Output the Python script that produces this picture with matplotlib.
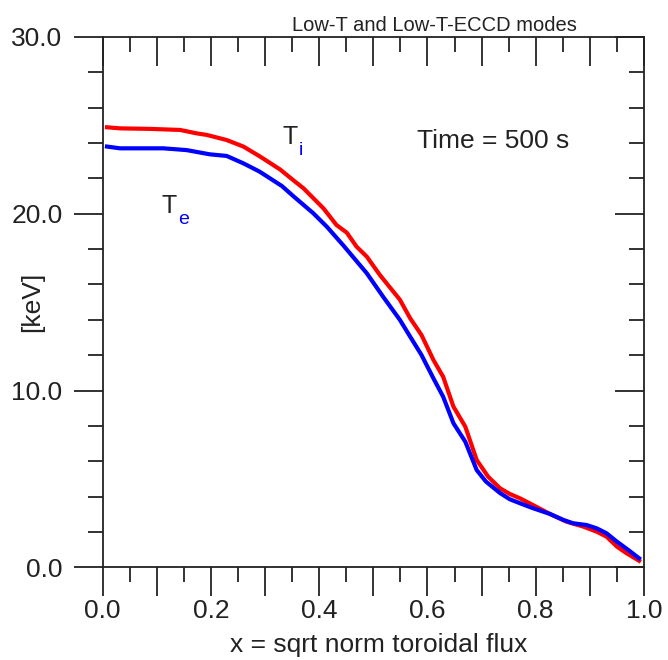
import matplotlib
matplotlib.use("Agg")
import matplotlib.pyplot as plt
from matplotlib.ticker import MultipleLocator, FixedLocator, FixedFormatter

plt.rcParams['font.family'] = ['Liberation Sans', 'DejaVu Sans']

#Ion temperature (red)
ti_x = [0.008, 0.032, 0.087, 0.143, 0.173, 0.192, 0.229, 0.26, 0.29, 0.328,
        0.352, 0.371, 0.408, 0.432, 0.451, 0.469, 0.488, 0.512, 0.549, 0.568,
        0.589, 0.611, 0.629, 0.648, 0.67, 0.691, 0.712, 0.734, 0.752, 0.771,
        0.795, 0.826, 0.857, 0.888, 0.913, 0.931, 0.95, 0.968, 0.991]
ti_y = [24.89, 24.83, 24.8, 24.74, 24.55, 24.46, 24.17, 23.8, 23.25, 22.5,
        21.9, 21.44, 20.3, 19.36, 18.93, 18.14, 17.57, 16.54, 15.14, 14.09,
        13.14, 11.73, 10.78, 9.09, 7.95, 6.07, 5.13, 4.47, 4.15, 3.9,
        3.52, 3.02, 2.58, 2.3, 2.01, 1.73, 1.17, 0.79, 0.37]

#Electron temperature (blue)
te_x = [0.008, 0.032, 0.112, 0.155, 0.198, 0.229, 0.26, 0.29, 0.331, 0.352,
        0.389, 0.414, 0.444, 0.488, 0.518, 0.549, 0.568, 0.589, 0.611, 0.629,
        0.648, 0.67, 0.691, 0.708, 0.734, 0.752, 0.771, 0.795, 0.826, 0.851,
        0.869, 0.894, 0.913, 0.931, 0.95, 0.971, 0.991]
te_y = [23.8, 23.7, 23.7, 23.6, 23.36, 23.27, 22.85, 22.38, 21.57, 21.0,
        20.03, 19.27, 18.23, 16.63, 15.31, 14.0, 13.05, 12.01, 10.69, 9.65,
        8.15, 7.1, 5.5, 4.85, 4.2, 3.85, 3.62, 3.34, 3.02, 2.68,
        2.49, 2.39, 2.2, 1.92, 1.45, 0.98, 0.51]

x_major = [0.0, 0.1, 0.2, 0.3, 0.4, 0.5, 0.6, 0.7, 0.8, 0.9, 1.0]
x_labels = ['0.0', '', '0.2', '', '0.4', '', '0.6', '', '0.8', '', '1.0']
y_major = [0, 10, 20, 30]
y_labels = ['0.0', '10.0', '20.0', '30.0']

title = 'Low-T and Low-T-ECCD modes'
time_note = 'Time = 500 s'

TXT = '#222222'
FS = 19
POS = [0.1537, 0.1405, 0.8103, 0.8035]

fig = plt.figure(figsize=(6.68, 6.6), dpi=100)
ax = fig.add_axes(POS)

ax.plot(ti_x, ti_y, color='#ff0000', lw=3)
ax.plot(te_x, te_y, color='#0000ff', lw=3)

ax.set_xlim(0, 1)
ax.set_ylim(0, 30)

for s in ax.spines.values():
    s.set_linewidth(1.3)
    s.set_color(TXT)

#bottom/left ticks point out
ax.xaxis.set_major_locator(FixedLocator(x_major))
ax.xaxis.set_major_formatter(FixedFormatter(x_labels))
ax.xaxis.set_minor_locator(MultipleLocator(0.05))
ax.yaxis.set_major_locator(FixedLocator(y_major))
ax.yaxis.set_major_formatter(FixedFormatter(y_labels))
ax.yaxis.set_minor_locator(MultipleLocator(2))
ax.tick_params(which='major', direction='out', length=21, width=1.3,
               color=TXT, labelsize=FS, labelcolor=TXT)
ax.tick_params(which='minor', direction='out', length=11, width=1.3, color=TXT)
ax.tick_params(axis='x', which='major', pad=2)
ax.tick_params(axis='y', which='major', pad=8)

#top/right ticks point in: overlay axes with only those ticks
ov = fig.add_axes(POS, sharex=ax, sharey=ax)
ov.patch.set_visible(False)
for s in ov.spines.values():
    s.set_visible(False)
ov.tick_params(which='both', direction='in', width=1.3, color=TXT,
               bottom=False, left=False, top=True, right=True,
               labelbottom=False, labelleft=False, labeltop=False, labelright=False)
ov.tick_params(which='major', length=21)
ov.tick_params(which='minor', length=11)

ax.set_xlabel('x = sqrt norm toroidal flux', fontsize=FS, color=TXT)
ax.xaxis.set_label_coords(0.51, -0.124)
ax.set_ylabel('[keV]', fontsize=FS, color=TXT)
ax.yaxis.set_label_coords(-0.108, 0.5)

fig.text(0.65, 1 - 31 / 660, title, ha='center', va='baseline',
         fontsize=14.5, color=TXT)

ax.text(0.581, 23.7, time_note, ha='left', va='baseline', fontsize=FS, color=TXT)

#curve labels: black T with blue subscript
ax.text(0.333, 23.95, 'T', ha='left', va='baseline', fontsize=18, color=TXT)
ax.text(0.363, 23.3, 'i', ha='left', va='baseline', fontsize=14, color='#0000ff')
ax.text(0.109, 20.04, 'T', ha='left', va='baseline', fontsize=18, color=TXT)
ax.text(0.139, 19.4, 'e', ha='left', va='baseline', fontsize=14, color='#0000ff')

fig.savefig('out.png', dpi=100)
